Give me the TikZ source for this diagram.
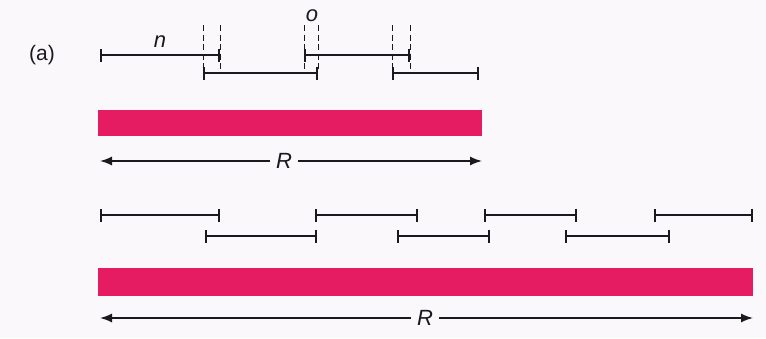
\documentclass[tikz,border=0pt]{standalone}
\usepackage{fontspec}
\setmainfont{Liberation Sans}
\usetikzlibrary{arrows.meta}
\definecolor{barpink}{RGB}{230,28,98}
\definecolor{paper}{RGB}{250,248,251}
\definecolor{ink}{RGB}{25,25,30}
\begin{document}
\begin{tikzpicture}[x=1pt,y=-1pt,
  seg/.style={draw=ink, line width=2pt,
    {Bar[width=13pt,line width=2pt]}-{Bar[width=13pt,line width=2pt]}},
  guide/.style={draw=ink, line width=1pt, dash pattern=on 6pt off 3.5pt},
  band/.style={fill=barpink, draw=none},
  spanline/.style={draw=ink, line width=1.5pt, -{Latex[length=12pt,width=9pt]}},
  lbl/.style={text=ink, font=\fontsize{22}{26}\selectfont\itshape, inner sep=1pt},
  tag/.style={text=ink, font=\fontsize{21}{25}\selectfont, inner sep=1pt},
  ]
\fill[paper] (0,0) rectangle (766,338);
\useasboundingbox (0,0) rectangle (766,338);

% ---------- (a): overlapping windows of length n, overlap o ----------
\node[tag] (a) at (42,55) {(a)};

\coordinate (t1l) at (100,55);  \coordinate (t1r) at (220,55);
\coordinate (t2l) at (203,73);  \coordinate (t2r) at (318,73);
\coordinate (t3l) at (304,55);  \coordinate (t3r) at (410,55);
\coordinate (t4l) at (392,73);  \coordinate (t4r) at (479,73);

\draw[seg] (t1l) -- (t1r);
\draw[seg] (t2l) -- (t2r);
\draw[seg] (t3l) -- (t3r);
\draw[seg] (t4l) -- (t4r);

% dashed guides marking the overlaps
\foreach \gx in {203,220,304,318,392,410}
  \draw[guide] (\gx,25) -- (\gx,71);

\node[lbl] (n) at (160,42) {n};
\node[lbl] (o) at (312,16) {o};

% record bar and its span
\fill[band] (98,110) rectangle (482,136);
\coordinate (r1l) at (100,161);
\coordinate (r1r) at (482,161);
\node[lbl, inner sep=6pt] (R1) at (284,161) {R};
\draw[spanline] (R1.west) -- (r1l);
\draw[spanline] (R1.east) -- (r1r);

% ---------- longer record with many windows ----------
\coordinate (b1l) at (100,215);  \coordinate (b1r) at (220,215);
\coordinate (b2l) at (315,215);  \coordinate (b2r) at (418,215);
\coordinate (b3l) at (484,215);  \coordinate (b3r) at (577,215);
\coordinate (b4l) at (654,215);  \coordinate (b4r) at (753,215);
\coordinate (c1l) at (205,236);  \coordinate (c1r) at (317,236);
\coordinate (c2l) at (397,236);  \coordinate (c2r) at (490,236);
\coordinate (c3l) at (565,236);  \coordinate (c3r) at (670,236);

\draw[seg] (b1l) -- (b1r);
\draw[seg] (b2l) -- (b2r);
\draw[seg] (b3l) -- (b3r);
\draw[seg] (b4l) -- (b4r);
\draw[seg] (c1l) -- (c1r);
\draw[seg] (c2l) -- (c2r);
\draw[seg] (c3l) -- (c3r);

\fill[band] (98,268) rectangle (753,296);
\coordinate (r2l) at (100,318);
\coordinate (r2r) at (753,318);
\node[lbl, inner sep=6pt] (R2) at (425,318) {R};
\draw[spanline] (R2.west) -- (r2l);
\draw[spanline] (R2.east) -- (r2r);
\end{tikzpicture}
\end{document}
